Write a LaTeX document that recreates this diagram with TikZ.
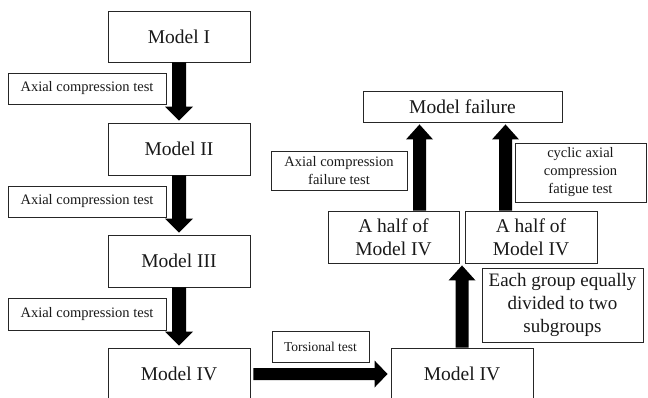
\documentclass[tikz,border=0pt]{standalone}
\usepackage{fontspec}
\setmainfont{Liberation Serif}
\usetikzlibrary{calc}
\newcommand{\blockdown}[2]{\fill[arrowfill] let \p1=(#1), \p2=(#2) in
  (\x1-7pt,\y1) -- (\x1+7pt,\y1) -- (\x1+7pt,\y2+16pt) -- (\x1+14pt,\y2+16pt) --
  (\x1,\y2+2pt) -- (\x1-14pt,\y2+16pt) -- (\x1-7pt,\y2+16pt) -- cycle;}
\newcommand{\blockup}[2]{\fill[arrowfill] let \p1=(#1), \p2=(#2) in
  (\x1-6.5pt,\y1) -- (\x1+6.5pt,\y1) -- (\x1+6.5pt,\y2-17pt) -- (\x1+13.5pt,\y2-17pt) --
  (\x1,\y2-2pt) -- (\x1-13.5pt,\y2-17pt) -- (\x1-6.5pt,\y2-17pt) -- cycle;}
\newcommand{\blockright}[2]{\fill[arrowfill] let \p1=(#1), \p2=(#2) in
  (\x1+3pt,\y1-6pt) -- (\x1+3pt,\y1+6pt) -- (\x2-16pt,\y1+6pt) -- (\x2-16pt,\y1+13.5pt) --
  (\x2-3pt,\y1) -- (\x2-16pt,\y1-13.5pt) -- (\x2-16pt,\y1-6pt) -- cycle;}
\begin{document}
\begin{tikzpicture}[x=1pt,y=-1pt,
  box/.style={draw=black!85, line width=0.9pt, inner sep=0pt, align=center, text=black!90},
  model/.style={box, font=\fontsize{19.5}{23}\selectfont},
  lab/.style={box, font=\fontsize{14.5}{17.5}\selectfont},
  arrowfill/.style={fill=black}]
\useasboundingbox (0,0) rectangle (648,398);
% main models
\node[model, minimum width=142pt, minimum height=51pt] (m1) at (179,36.5) {Model I};
\node[model, minimum width=142pt, minimum height=52pt] (m2) at (179,149) {Model II};
\node[model, minimum width=142pt, minimum height=52pt] (m3) at (179,261) {Model III};
\node[model, minimum width=142pt, minimum height=52pt] (m4) at (179,374) {Model IV};
\node[model, minimum width=142pt, minimum height=52pt] (m4b) at (462,374) {Model IV};
\node[model, minimum width=131pt, minimum height=52pt] (hl) at (393.5,237) {A half of\\Model IV};
\node[model, minimum width=132pt, minimum height=52pt] (hr) at (531,237) {A half of\\Model IV};
\node[model, minimum width=199pt, minimum height=31pt] (mf) at (462.5,106.5) {Model failure};
% labels
\node[lab, minimum width=158pt, minimum height=31pt] (l1) at (87,88.5) {Axial compression test};
\node[lab, minimum width=158pt, minimum height=31pt] (l2) at (87,201.5) {Axial compression test};
\node[lab, minimum width=158pt, minimum height=32pt] (l3) at (87,314) {Axial compression test};
\node[box, font=\fontsize{13.5}{16}\selectfont, minimum width=97pt, minimum height=31pt] (lt) at (320.5,346.5) {Torsional test};
\node[lab, minimum width=136pt, minimum height=39pt] (lf) at (339,170.5) {Axial compression\\failure test};
\node[lab, minimum width=131pt, minimum height=59pt, font=\fontsize{14.5}{18}\selectfont] (lc) at (580.5,172.5) {cyclic axial\\compression\\fatigue test};
\node[model, minimum width=161pt, minimum height=74pt, font=\fontsize{19}{23}\selectfont] (le) at (562.5,305) {Each group equally\\divided to two\\subgroups};
% connection points
\coordinate (split) at ($(hl.south east)!0.5!(hr.south west)$);
\coordinate (fa) at ([xshift=-43pt]mf.south);
\coordinate (fb) at ([xshift=43pt]mf.south);
% arrows
\blockdown{m1.south}{m2.north}
\blockdown{m2.south}{m3.north}
\blockdown{m3.south}{m4.north}
\blockright{m4.east}{m4b.west}
\blockup{m4b.north}{split}
\blockup{fa |- hl.north}{fa}
\blockup{fb |- hr.north}{fb}
\end{tikzpicture}
\end{document}
